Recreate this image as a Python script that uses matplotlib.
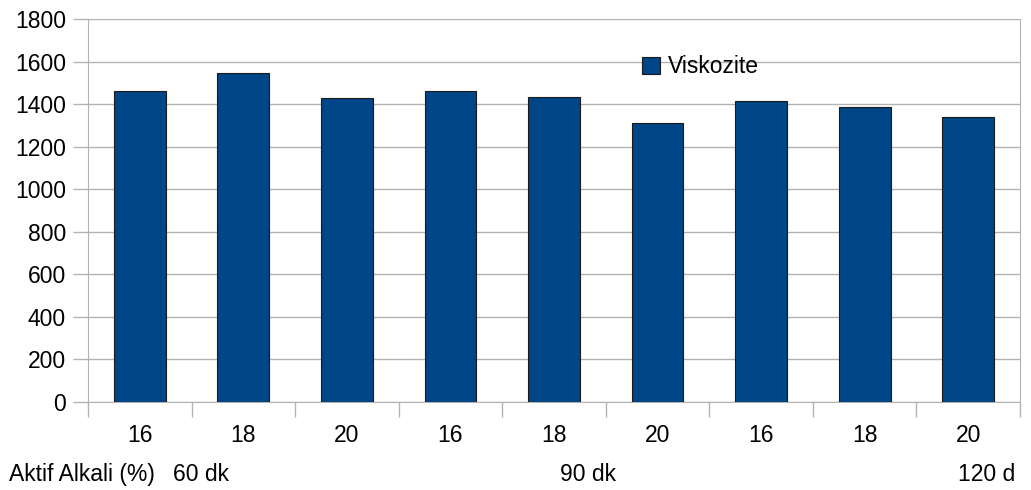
import matplotlib.pyplot as plt
from matplotlib.patches import Patch
from matplotlib.transforms import Bbox

plt.rcParams['font.family'] = ['Liberation Sans', 'DejaVu Sans']

alkali = ['16', '18', '20', '16', '18', '20', '16', '18', '20']
viskozite = [1460, 1545, 1430, 1460, 1432, 1310, 1413, 1385, 1338]
groups = ['60 dk', '90 dk', '120 dk']

W, H = 1031, 490
FS = 16.5
fig = plt.figure(figsize=(W / 100, H / 100), dpi=100)
ax = fig.add_axes([88 / W, (H - 402) / H, (1020 - 88) / W, (402 - 19) / H])

grid = '#b3b3b3'
x = range(len(viskozite))
ax.bar(x, viskozite, width=0.5, color='#004586', edgecolor='#1a1a1a',
       linewidth=0.8, zorder=3)

ax.set_xlim(-0.5, len(viskozite) - 0.5)
ax.set_ylim(0, 1800)
ax.set_yticks(range(0, 1801, 200))
ax.yaxis.grid(True, color=grid, linewidth=1, zorder=0)

# boundaries between categories get the tick marks, labels sit at centres
ax.set_xticks([i - 0.5 for i in range(len(viskozite) + 1)])
ax.set_xticklabels([])
ax.set_xticks(list(x), minor=True)
ax.set_xticklabels(alkali, minor=True)
ax.tick_params(axis='x', which='major', length=11, color=grid, width=1)
ax.tick_params(axis='x', which='minor', length=0, pad=16, labelsize=FS)
ax.tick_params(axis='y', length=11, color=grid, width=1, pad=5, labelsize=FS)

for s in ['left', 'bottom', 'right']:
    ax.spines[s].set_color(grid)
ax.spines['top'].set_visible(False)

# second row of category labels; the last one runs past the chart edge
row_y = 1 - 474 / H
x_last = 958 / W
probe = fig.text(x_last, row_y, groups[2][:-1], ha='left', va='center', fontsize=FS)
edge = probe.get_window_extent(fig.canvas.get_renderer()).x1
probe.remove()
clip = Bbox([[0, 0], [edge, H]])

labels = [
    fig.text(155 / W, row_y, 'Aktif Alkali (%)', ha='right', va='center', fontsize=FS),
    fig.text(173 / W, row_y, groups[0], ha='left', va='center', fontsize=FS),
    fig.text(560 / W, row_y, groups[1], ha='left', va='center', fontsize=FS),
    fig.text(x_last, row_y, groups[2], ha='left', va='center', fontsize=FS),
]
for t in labels:
    t.set_clip_box(clip)
    t.set_clip_on(True)

fig.legend(handles=[Patch(facecolor='#004586', edgecolor='#1a1a1a', linewidth=0.8)],
           labels=['Viskozite'], loc='upper left',
           bbox_to_anchor=(631 / W, 1 - 44 / H), frameon=False, fontsize=FS,
           handlelength=0.75, handleheight=0.75, handletextpad=0.35, borderpad=0)

fig.savefig('out.png', dpi=100)
